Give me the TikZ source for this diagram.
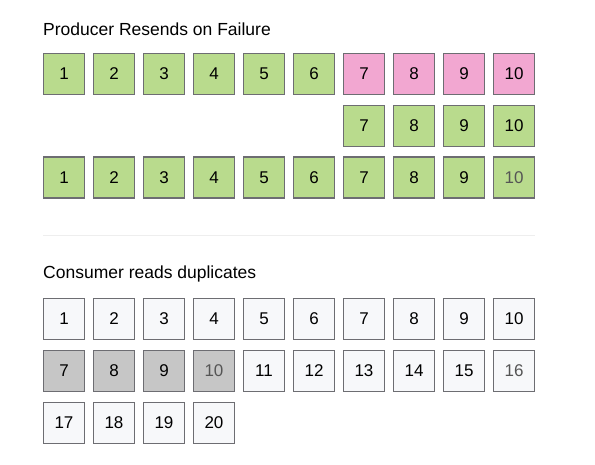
\documentclass[tikz,border=0pt]{standalone}
\usepackage{fontspec}
\setmainfont{Liberation Sans}
\usepackage{xcolor}
\usepackage{tikz}
\usetikzlibrary{positioning}
\definecolor{AckGreen}{HTML}{B9DB8D}
\definecolor{LostPink}{HTML}{F2A7D1}
\definecolor{CellEdge}{HTML}{6D6D72}
\definecolor{CellPaper}{HTML}{F7F8FA}
\definecolor{DupGray}{HTML}{C6C6C6}
\definecolor{RuleGray}{HTML}{EEEEEE}
\definecolor{FadedText}{HTML}{555555}

\begin{document}
\begin{tikzpicture}[
  x=1pt,y=-1pt,
  cell/.style={draw=CellEdge,line width=1.5pt,minimum size=41pt,inner sep=0pt,font=\fontsize{17}{19}\selectfont},
  sent/.style={cell,fill=AckGreen},
  lost/.style={cell,fill=LostPink},
  read/.style={cell,fill=CellPaper},
  dup/.style={cell,fill=DupGray},
  faded/.style={text=FadedText},
  heading/.style={anchor=base west,inner sep=0pt,font=\fontsize{17.5}{20}\selectfont}
]
\useasboundingbox (0,0) rectangle (595,465);
% producer side
\node[heading] (prodtitle) at (43,36) {Producer Resends on Failure};
\foreach \i in {1,...,6} \node[sent] (p\i) at (64+50*\i-50,74) {\i};
\foreach \i in {7,...,10} \node[lost] (p\i) at (64+50*\i-50,74) {\i};
\foreach \i in {7,...,10} \node[sent] (r\i) at (64+50*\i-50,126) {\i};
\foreach \i in {1,...,9} \node[sent] (s\i) at (64+50*\i-50,177.5) {\i};
\node[sent,faded] (s10) at (514,177.5) {10};
\draw[RuleGray,line width=1pt] (43,236) -- (535,236);
% consumer side
\node[heading] (constitle) at (43,279) {Consumer reads duplicates};
\foreach \i in {1,...,10} \node[read] (c\i) at (64+50*\i-50,319) {\i};
\foreach \i in {7,8,9} \node[dup] (d\i) at (64+50*\i-350,371) {\i};
\node[dup,faded] (d10) at (214,371) {10};
\foreach \i in {11,...,15} \node[read] (c\i) at (64+50*\i-350,371) {\i};
\node[read,faded] (c16) at (514,371) {16};
\foreach \i in {17,...,20} \node[read] (c\i) at (64+50*\i-850,423) {\i};
\end{tikzpicture}
\end{document}
